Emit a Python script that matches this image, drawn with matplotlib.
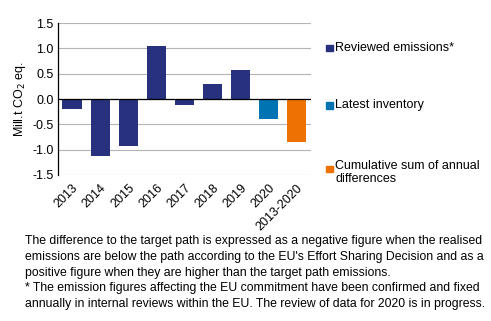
import matplotlib
matplotlib.use("Agg")
import matplotlib.pyplot as plt
import numpy as np

plt.rcParams["font.family"] = ["Liberation Sans", "DejaVu Sans"]

# data
categories = ["2013", "2014", "2015", "2016", "2017", "2018", "2019", "2020", "2013-2020"]
values = [-0.19, -1.13, -0.92, 1.05, -0.11, 0.30, 0.58, -0.39, -0.84]
series = ["rev", "rev", "rev", "rev", "rev", "rev", "rev", "inv", "cum"]
legend_labels = ["Reviewed emissions*", "Latest inventory",
                 "Cumulative sum of annual\ndifferences"]
yticks = [-1.5, -1.0, -0.5, 0.0, 0.5, 1.0, 1.5]

C_REV = "#27317e"
C_INV = "#0073b2"
C_CUM = "#ee7203"
colors = {"rev": C_REV, "inv": C_INV, "cum": C_CUM}

fig = plt.figure(figsize=(4.91, 3.21), dpi=100)
ax = fig.add_axes([0.118, 0.455, 0.515, 0.473])

x = np.arange(len(categories))
ax.bar(x, values, 0.68, color=[colors[s] for s in series], zorder=3)

ax.set_xlim(-0.5, len(categories) - 0.5)
ax.set_ylim(-1.5, 1.5)
ax.set_yticks(yticks)
ax.set_yticklabels([f"{v:.1f}" for v in yticks], fontsize=9)
ax.set_xticks(x)
ax.set_xticklabels(categories, rotation=45, ha="right", rotation_mode="anchor", fontsize=9)
ax.tick_params(axis="both", length=0, pad=3)
ax.tick_params(axis="x", pad=5)
ax.grid(axis="y", color="#b4b4b4", lw=0.8, zorder=0)
ax.axhline(0, color="black", lw=0.9, zorder=4)
for s in ["top", "right", "bottom"]:
    ax.spines[s].set_visible(False)
ax.spines["left"].set_color("black")
ax.spines["left"].set_linewidth(0.9)
ax.set_ylabel("Mill.t CO$_2$ eq.", fontsize=9, labelpad=3)

# legend drawn as three separate entries spaced like the reference
leg_y = [0.852, 0.672, 0.475]
for lab, key, yy in zip(legend_labels, ["rev", "inv", "cum"], leg_y):
    fig.patches.append(plt.Rectangle((0.664, yy - 0.012), 0.014, 0.021,
                                     transform=fig.transFigure, color=colors[key]))
    if "\n" in lab:
        fig.text(0.683, yy + 0.028, lab, fontsize=9, va="top", ha="left", linespacing=1.15)
    else:
        fig.text(0.683, yy, lab, fontsize=9, va="center", ha="left")

note = ("The difference to the target path is expressed as a negative figure when the realised\n"
        "emissions are below the path according to the EU's Effort Sharing Decision and as a\n"
        "positive figure when they are higher than the target path emissions.\n"
        "* The emission figures affecting the EU commitment have been confirmed and fixed\n"
        "annually in internal reviews within the EU. The review of data for 2020 is in progress.")
fig.text(0.05, 0.268, note, fontsize=8.8, va="top", ha="left", linespacing=1.42)

fig.savefig("out.png", dpi=100)
